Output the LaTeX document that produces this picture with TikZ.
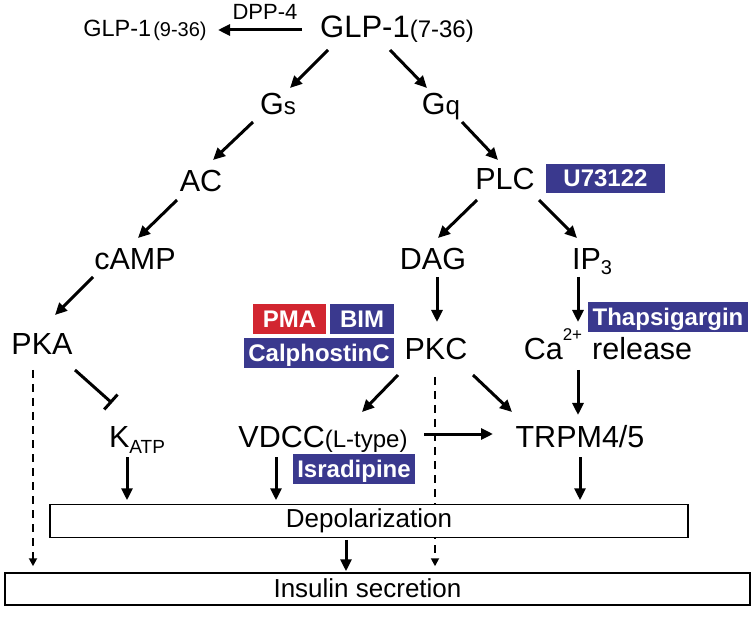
\documentclass[tikz,border=0pt]{standalone}
\usepackage{fontspec}
\setmainfont{Liberation Sans}
\usetikzlibrary{arrows.meta}
\definecolor{inhblue}{RGB}{58,57,142}
\definecolor{actred}{RGB}{210,38,48}
\newcommand\fs[1]{\fontsize{#1}{#1}\selectfont}
\begin{document}
\begin{tikzpicture}[x=1pt,y=-1pt,
 lbl/.style={anchor=base,inner sep=0pt,font=\fs{30.5}},
 drug/.style={fill=inhblue,text=white,font=\fs{24}\bfseries,inner sep=0pt,text height=20.5pt,text depth=4pt},
 arr/.style={line width=3pt,-{Triangle[length=12pt,width=11pt]}},
 darr/.style={line width=1.8pt,dash pattern=on 8pt off 6pt,-{Triangle[length=8pt,width=8pt]}},
 inh/.style={line width=3pt,-{Bar[width=20pt]}},
 bar/.style={draw,line width=1.5pt,fill=white,inner sep=0pt,font=\fs{26}}
]
\useasboundingbox (0,0) rectangle (755,617);

% text nodes
\node[lbl] (glp) at (397,38) {\fs{31}GLP-1{\fs{24}(7-36)}};
\node[lbl] (glp936) at (145,37) {\fs{23.5}GLP-1\hspace{2pt}{\fs{20}(9-36)}};
\node[lbl,font=\fs{22}] (dpp) at (265,20) {DPP-4};
\node[lbl] (gs) at (278,115) {G{\fs{24}s}};
\node[lbl] (gq) at (441,115) {G{\fs{26}q}};
\node[lbl] (ac) at (201,192) {AC};
\node[lbl] (plc) at (505,190) {PLC};
\node[lbl] (camp) at (135,270) {cAMP};
\node[lbl] (dag) at (433,270) {DAG};
\node[lbl] (ip3) at (592,270) {IP\raisebox{-5pt}{\fs{20}3}};
\node[lbl] (pka) at (42,355) {PKA};
\node[lbl] (pkc) at (436,360) {PKC};
\node[lbl] (ca) at (608,360) {Ca\raisebox{19pt}{\fs{17}2+}\hspace{10pt}release};
\node[lbl] (katp) at (137,447) {K\raisebox{-6pt}{\fs{19}ATP}};
\node[lbl] (vdcc) at (323,447) {VDCC{\fs{24}(L-type)}};
\node[lbl] (trpm) at (580,447) {TRPM4/5};

% drug boxes
\node[drug,minimum width=119pt,minimum height=29pt] (u73) at (605.5,178.5) {U73122};
\node[drug,minimum width=160pt,minimum height=30pt] (thap) at (668,317) {Thapsigargin};
\node[drug,fill=actred,minimum width=73pt,minimum height=30pt] (pma) at (289.5,319) {PMA};
\node[drug,minimum width=64pt,minimum height=30pt] (bim) at (362,319) {BIM};
\node[drug,minimum width=150pt,minimum height=30pt] (calph) at (319,353) {CalphostinC};
\node[drug,minimum width=122pt,minimum height=30pt] (isra) at (354,469) {Isradipine};

% insulin box
\node[bar,minimum width=745pt,minimum height=32pt,text height=21pt,text depth=5pt] (ins) at (377.5,589) {Insulin secretion\kern20pt};

% dashed connectors (pass behind depolarization box)
\draw[darr] ([shift={(-9,15)}]pka.base) -- ([shift={(-344.5,-6)}]ins.north);
\draw[darr] ([shift={(-1,17)}]pkc.base) -- ([shift={(57.5,-6)}]ins.north);

% depolarization box
\node[bar,minimum width=638pt,minimum height=33pt,text height=19pt,text depth=6pt] (depol) at (369,521) {Depolarization};

% solid connectors
\draw[arr] ([shift={(-95,-8)}]glp.base) -- ([shift={(73,-7)}]glp936.base);
\draw[arr] ([shift={(-69,12)}]glp.base) -- ([shift={(12,-27)}]gs.base);
\draw[arr] ([shift={(-7,12)}]glp.base) -- ([shift={(-14,-27)}]gq.base);
\draw[arr] ([shift={(-25,7)}]gs.base) -- ([shift={(12,-32)}]ac.base);
\draw[arr] ([shift={(21,7)}]gq.base) -- ([shift={(-7,-30)}]plc.base);
\draw[arr] ([shift={(-24,8)}]ac.base) -- ([shift={(3,-32)}]camp.base);
\draw[arr] ([shift={(-28,10)}]plc.base) -- ([shift={(5,-32)}]dag.base);
\draw[arr] ([shift={(34,10)}]plc.base) -- ([shift={(-15,-32)}]ip3.base);
\draw[arr] ([shift={(-42,7)}]camp.base) -- ([shift={(13,-40)}]pka.base);
\draw[arr] ([shift={(4,7)}]dag.base) -- ([shift={(1,-38)}]pkc.base);
\draw[arr] ([shift={(-14,7)}]ip3.base) -- ([shift={(-30,-38)}]ca.base);
\draw[inh] ([shift={(33,15)}]pka.base) -- ([shift={(-25,-44)}]katp.base);
\draw[arr] ([shift={(-38,15)}]pkc.base) -- ([shift={(39,-35)}]vdcc.base);
\draw[arr] ([shift={(37,15)}]pkc.base) -- ([shift={(-68,-35)}]trpm.base);
\draw[arr] ([shift={(-30,10)}]ca.base) -- ([shift={(-2,-32)}]trpm.base);
\draw[arr] ([shift={(101,-13)}]vdcc.base) -- ([shift={(-87,-13)}]trpm.base);
\draw[arr] ([shift={(-10,10)}]katp.base) -- ([shift={(-242,-3.5)}]depol.north);
\draw[arr] ([shift={(-47,10)}]vdcc.base) -- ([shift={(-93,-3.5)}]depol.north);
\draw[arr] ([shift={(0,10)}]trpm.base) -- ([shift={(211,-3.5)}]depol.north);
\draw[arr] ([shift={(-23,1.5)}]depol.south) -- ([shift={(-31.5,-1)}]ins.north);
\end{tikzpicture}
\end{document}
